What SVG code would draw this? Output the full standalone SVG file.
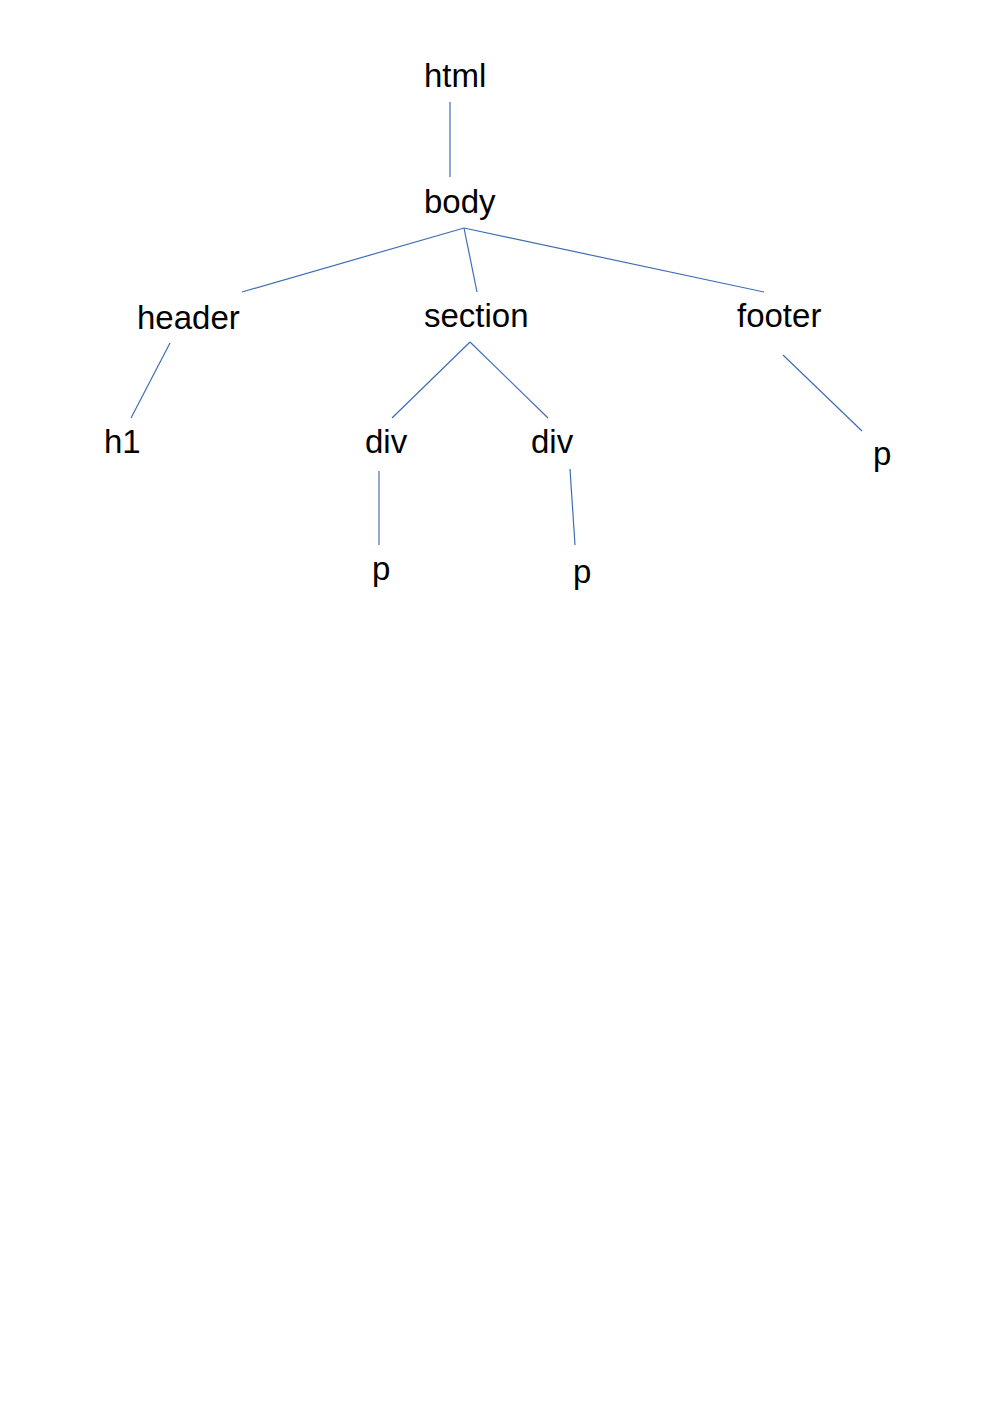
<svg xmlns="http://www.w3.org/2000/svg" width="992" height="1403" viewBox="0 0 992 1403">
<style>
.t{font-family:"Liberation Sans",Arial,sans-serif;font-size:33px;fill:#000}
.c line{stroke:#3f6db5;stroke-width:1.2}
</style>
<rect width="992" height="1403" fill="#fff"/>
<g class="c" id="connectors">
<line x1="450" y1="102" x2="450" y2="177"/>
<line x1="464" y1="228" x2="242" y2="292"/>
<line x1="464" y1="228" x2="477" y2="292"/>
<line x1="464" y1="228" x2="764" y2="292"/>
<line x1="170" y1="343" x2="131" y2="418"/>
<line x1="470" y1="342" x2="392" y2="418"/>
<line x1="470" y1="342" x2="548" y2="418"/>
<line x1="783" y1="355" x2="862" y2="431"/>
<line x1="379" y1="471" x2="379" y2="545"/>
<line x1="570" y1="469" x2="575" y2="545"/>
</g>
<g id="n-html"><text class="t" x="424" y="87">html</text></g>
<g id="n-body"><text class="t" x="424" y="213">body</text></g>
<g id="n-header"><text class="t" x="137" y="329">header</text></g>
<g id="n-section"><text class="t" x="424" y="327">section</text></g>
<g id="n-footer"><text class="t" x="737" y="327">footer</text></g>
<g id="n-h1"><text class="t" x="104" y="453">h1</text></g>
<g id="n-div1"><text class="t" x="365" y="453">div</text></g>
<g id="n-div2"><text class="t" x="531" y="453">div</text></g>
<g id="n-p1"><text class="t" x="372" y="580">p</text></g>
<g id="n-p2"><text class="t" x="573" y="583">p</text></g>
<g id="n-p3"><text class="t" x="873" y="465">p</text></g>
</svg>
